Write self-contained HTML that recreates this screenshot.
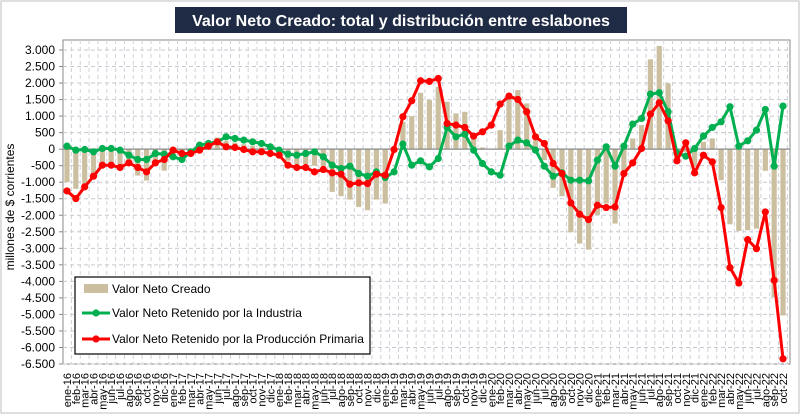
<!DOCTYPE html>
<html><head><meta charset="utf-8"><style>
body{margin:0;background:#fff;font-family:"Liberation Sans",sans-serif}
#wrap{position:relative;width:800px;height:414px;overflow:hidden;background:#fff}
</style></head><body>
<div id="wrap">
<svg id="chart" width="800" height="414"></svg>
</div>
<script>
const months=["ene","feb","mar","abr","may","jun","jul","ago","sep","oct","nov","dic"];
const categories=[];
for(let y=16;y<=22;y++){for(let m=0;m<12;m++){if(y===22&&m>9)break;categories.push(months[m]+"-"+y);}}
const valorNetoCreado=[-1000,-1200,-1100,-800,-450,-450,-500,-450,-800,-950,-450,-650,-200,-100,-100,100,200,350,250,200,150,100,50,-50,-150,-350,-450,-450,-500,-600,-1293,-1424,-1525,-1747,-1848,-1525,-1646,-100,828,999,1707,1485,1889,1434,1081,1131,374,50,0,576,1636,1788,1384,273,-333,-1171,-1424,-2515,-2858,-3040,-1989,-1646,-2252,-636,323,727,2717,3120,1990,-131,-80,-535,222,323,-939,-2272,-2474,-2454,-2403,-656,-4474,-5030];
const industria=[91,-30,-10,-80,20,20,-30,-182,-313,-313,-131,-152,-232,-313,-80,121,172,222,374,323,273,222,172,71,-30,-152,-182,-131,-80,-232,-485,-586,-515,-737,-818,-687,-859,-687,152,-485,-353,-535,-283,657,374,455,-30,-434,-687,-788,91,273,192,-30,-515,-818,-717,-939,-939,-960,-333,71,-515,91,758,929,1666,1707,1131,-111,-212,20,394,657,828,1283,91,253,576,1202,-515,1303];
const produccion=[-1264,-1495,-1141,-818,-485,-485,-555,-414,-555,-687,-414,-313,-30,-131,-131,-30,91,222,71,50,-10,-80,-80,-131,-182,-485,-555,-555,-687,-616,-717,-758,-1061,-1020,-1040,-758,-788,-10,980,1465,2070,2050,2140,778,727,657,394,525,727,1364,1606,1505,1131,374,172,-434,-737,-1626,-1969,-2131,-1697,-1767,-1747,-737,-414,20,1060,1404,858,-353,192,-717,-182,-384,-1767,-3585,-4050,-2737,-3010,-1899,-3969,-6343];
const yTicks=[3000,2500,2000,1500,1000,500,0,-500,-1000,-1500,-2000,-2500,-3000,-3500,-4000,-4500,-5000,-5500,-6000,-6500];
const tickLabels=yTicks.map(v=>(v<0?"-":"")+(Math.abs(v)>=1000?Math.floor(Math.abs(v)/1000)+"."+String(Math.abs(v)%1000).padStart(3,"0"):String(Math.abs(v))));

const NS="http://www.w3.org/2000/svg";
const svg=document.getElementById("chart");
function mk(tag,attrs,parent){const e=document.createElementNS(NS,tag);for(const k in attrs)e.setAttribute(k,attrs[k]);(parent||svg).appendChild(e);return e;}
const L=63,R=790,T=50,B=364;
const yMin=-6500,yMax=3000;
const y=v=>T+(yMax-v)/(yMax-yMin)*(B-T);
const x0=67,dx=(783-67)/(categories.length-1);
const x=i=>x0+i*dx;

// outer frame
let e=mk("rect",{x:1,y:1,width:798,height:412,fill:"#fff",stroke:"#bfbfbf","stroke-width":1});

// plot area border
e=mk("rect",{x:L,y:40,width:R-L,height:B-40,fill:"#fff",stroke:"#888","stroke-width":1});

// grid
const grid=mk("g",{});

yTicks.forEach(v=>{if(v!==0)mk("line",{x1:L,x2:R,y1:y(v),y2:y(v),stroke:"#c8c8d0","stroke-dasharray":"4,3","stroke-width":1},grid);});
categories.forEach((c,i)=>{mk("line",{x1:x(i)+dx/2,x2:x(i)+dx/2,y1:40,y2:B,stroke:"#d0d0d8","stroke-dasharray":"4,3","stroke-width":1},grid);});
// y labels
yTicks.forEach((v,i)=>{const t=mk("text",{x:55,y:y(v)+4,"text-anchor":"end","font-size":"12","fill":"#000"});t.textContent=tickLabels[i];

mk("line",{x1:L-4,x2:L,y1:y(v),y2:y(v),stroke:"#888"});});
// y title
e=mk("text",{x:14,y:(T+B)/2,transform:`rotate(-90 14 ${(T+B)/2})`,"text-anchor":"middle","font-size":"12"});
e.textContent="millones de $ corrientes";
// x labels
categories.forEach((c,i)=>{const t=mk("text",{x:0,y:0,transform:`translate(${x(i)+4},373) rotate(-90)`,"text-anchor":"end","font-size":"11"});t.textContent=c;
});
// bars
const bars=mk("g",{});
valorNetoCreado.forEach((v,i)=>{const r=mk("rect",{x:x(i)-2.6,y:Math.min(y(v),y(0)),width:5.2,height:Math.abs(y(v)-y(0)),fill:"#cbbf9f"},bars);
});
// zero line
e=mk("line",{x1:L,x2:R,y1:y(0),y2:y(0),stroke:"#888","stroke-width":1.2});

function series(data,color,name){const g=mk("g",{});
const p=mk("polyline",{points:data.map((v,i)=>x(i)+","+y(v)).join(" "),fill:"none",stroke:color,"stroke-width":3,"stroke-linejoin":"round"},g);

data.forEach((v,i)=>{const c=mk("circle",{cx:x(i),cy:y(v),r:3.6,fill:color},g);});}
series(industria,"#00b050","industria-series");
series(produccion,"#ff0000","produccion-primaria-series");
// legend
const lg=mk("g",{});
mk("rect",{x:75,y:277,width:295,height:77,fill:"#fff",stroke:"#000","stroke-width":1.2},lg);
mk("rect",{x:84,y:284,width:24,height:9,fill:"#cbbf9f"},lg);
let t=mk("text",{x:112,y:293,"font-size":"12"},lg);t.textContent="Valor Neto Creado";
mk("line",{x1:82,x2:110,y1:313,y2:313,stroke:"#00b050","stroke-width":3},lg);mk("circle",{cx:96,cy:313,r:3.6,fill:"#00b050"},lg);
t=mk("text",{x:112,y:317,"font-size":"12"},lg);t.textContent="Valor Neto Retenido por la Industria";
mk("line",{x1:82,x2:110,y1:339,y2:339,stroke:"#ff0000","stroke-width":3},lg);mk("circle",{cx:96,cy:339,r:3.6,fill:"#ff0000"},lg);
t=mk("text",{x:112,y:343,"font-size":"12"},lg);t.textContent="Valor Neto Retenido por la Producción Primaria";
// title
mk("rect",{x:175,y:7,width:452,height:26,fill:"#1f2a44"});
t=mk("text",{x:401,y:26,"text-anchor":"middle","font-size":"16","font-weight":"bold",fill:"#fff"});
t.textContent="Valor Neto Creado: total y distribución entre eslabones";
</script>
</body></html>
